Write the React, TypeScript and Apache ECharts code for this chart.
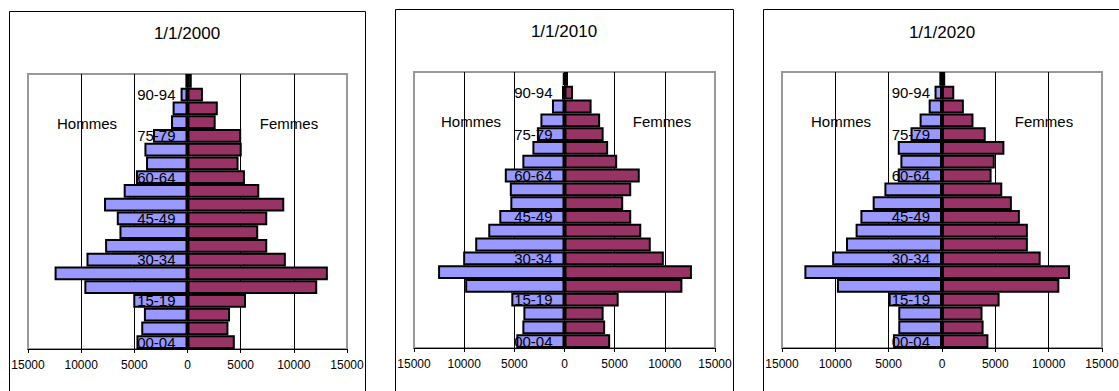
import React, { useEffect, useRef } from "react";
import * as echarts from "echarts";

// Age groups, bottom to top
const ageGroups = [
  "00-04", "05-09", "10-14", "15-19", "20-24", "25-29", "30-34", "35-39", "40-44", "45-49",
  "50-54", "55-59", "60-64", "65-69", "70-74", "75-79", "80-84", "85-89", "90-94", "95-99",
];

const panelTitles = ["1/1/2000", "1/1/2010", "1/1/2020"];

const hommes2000 = [4800, 4350, 4100, 5100, 9700, 12500, 9500, 7750, 6400, 6650, 7850, 6000, 4850, 3900, 4050, 3250, 1550, 1400, 650, 200];
const femmes2000 = [4450, 3850, 4000, 5500, 12200, 13200, 9250, 7500, 6650, 7500, 9100, 6750, 5400, 4800, 5100, 5050, 2650, 2850, 1450, 400];

const hommes2010 = [4800, 4200, 4100, 5300, 9900, 12600, 10100, 8900, 7600, 6500, 5400, 5450, 5950, 4200, 3200, 2750, 2400, 1250, 250, 150];
const femmes2010 = [4550, 4050, 3900, 5400, 11750, 12700, 9900, 8600, 7650, 6650, 5850, 6650, 7500, 5250, 4350, 3900, 3550, 2700, 850, 350];

const hommes2020 = [4600, 4100, 4100, 5000, 9850, 12900, 10300, 9000, 8100, 7650, 6500, 5400, 4150, 3900, 4150, 2950, 2100, 1250, 700, 250];
const femmes2020 = [4350, 3900, 3800, 5400, 11000, 12000, 9250, 8050, 8050, 7300, 6550, 5650, 4650, 4950, 5850, 4100, 2950, 2050, 1150, 300];

const axisMin = -15000;
const axisMax = 15000;
const axisStep = 5000;

const FONT = 'Arial, "Liberation Sans", sans-serif';

// Layout of the three panels (frame + plot area)
const panels = [
  { frame: [9, 11, 356, 420], grid: [28, 74, 319, 275], title: [187, 33], hommes: [87, 123], femmes: [289, 123], men: hommes2000, women: femmes2000 },
  { frame: [395, 9, 338, 420], grid: [414, 72, 301, 276], title: [564, 31], hommes: [471, 121], femmes: [662, 121], men: hommes2010, women: femmes2010 },
  { frame: [763, 9, 400, 420], grid: [782, 72, 320, 276], title: [942, 32], hommes: [841, 121], femmes: [1044, 121], men: hommes2020, women: femmes2020 },
];

export default function App() {
  const ref = useRef<HTMLDivElement>(null);

  useEffect(() => {
    if (!ref.current) return;
    const chart = echarts.init(ref.current, undefined, { renderer: "svg" });

    const grids: any[] = [];
    const xAxes: any[] = [];
    const yAxes: any[] = [];
    const series: any[] = [];
    const graphics: any[] = [];

    panels.forEach((p, i) => {
      const [gl, gt, gw, gh] = p.grid;
      grids.push({
        left: gl, top: gt, width: gw, height: gh,
        show: true, borderColor: "#999999", borderWidth: 2, backgroundColor: "#ffffff",
        containLabel: false, outerBoundsMode: "none",
      });
      xAxes.push({
        type: "value", gridIndex: i, min: axisMin, max: axisMax, interval: axisStep,
        axisLine: { show: true, onZero: false, lineStyle: { color: "#000", width: 1 } },
        axisTick: { show: true, length: 4, lineStyle: { color: "#000" } },
        axisLabel: {
          color: "#000", fontSize: 12, fontFamily: FONT, margin: 10,
          formatter: (v: number) => String(Math.abs(v)),
        },
        splitLine: { show: true, showMinLine: false, showMaxLine: false, lineStyle: { color: "#000", width: 1 } },
      });
      // Age labels sit just left of the zero line, drawn over the bars
      yAxes.push({
        type: "category", gridIndex: i, data: ageGroups, z: 10,
        position: "left", offset: -gw / 2,
        axisLine: { show: false, onZero: false },
        axisTick: { show: false },
        axisLabel: { interval: 2, color: "#000", fontSize: 15, fontFamily: FONT, margin: 12 },
        splitLine: { show: false },
      });
      series.push({
        type: "bar", name: "Hommes", xAxisIndex: i, yAxisIndex: i, stack: "p" + i,
        barCategoryGap: "0%",
        data: p.men.map((v) => -v),
        itemStyle: { color: "#9999FF", borderColor: "#000", borderWidth: 2 },
      });
      series.push({
        type: "bar", name: "Femmes", xAxisIndex: i, yAxisIndex: i, stack: "p" + i,
        barCategoryGap: "0%",
        data: p.women,
        itemStyle: { color: "#993366", borderColor: "#000", borderWidth: 2 },
      });

      const [fx, fy, fw, fh] = p.frame;
      graphics.push({
        type: "rect", z: -10, silent: true,
        shape: { x: fx + 0.5, y: fy + 0.5, width: fw, height: fh },
        style: { fill: "#fff", stroke: "#000", lineWidth: 1 },
      });
      graphics.push({
        type: "text", z: 20, x: p.title[0], y: p.title[1],
        style: { text: panelTitles[i], fontSize: 17, fontFamily: FONT, fill: "#000", align: "center", verticalAlign: "middle" },
      });
      graphics.push({
        type: "text", z: 20, x: p.hommes[0], y: p.hommes[1],
        style: { text: "Hommes", fontSize: 15, fontFamily: FONT, fill: "#000", align: "center", verticalAlign: "middle" },
      });
      graphics.push({
        type: "text", z: 20, x: p.femmes[0], y: p.femmes[1],
        style: { text: "Femmes", fontSize: 15, fontFamily: FONT, fill: "#000", align: "center", verticalAlign: "middle" },
      });
    });

    chart.setOption({
      animation: false,
      backgroundColor: "#ffffff",
      grid: grids,
      xAxis: xAxes,
      yAxis: yAxes,
      series,
      graphic: graphics,
    });

    return () => chart.dispose();
  }, []);

  return (
    <div
      ref={ref}
      style={{ position: "absolute", left: 0, top: 0, width: 1119, height: 391 }}
    />
  );
}
